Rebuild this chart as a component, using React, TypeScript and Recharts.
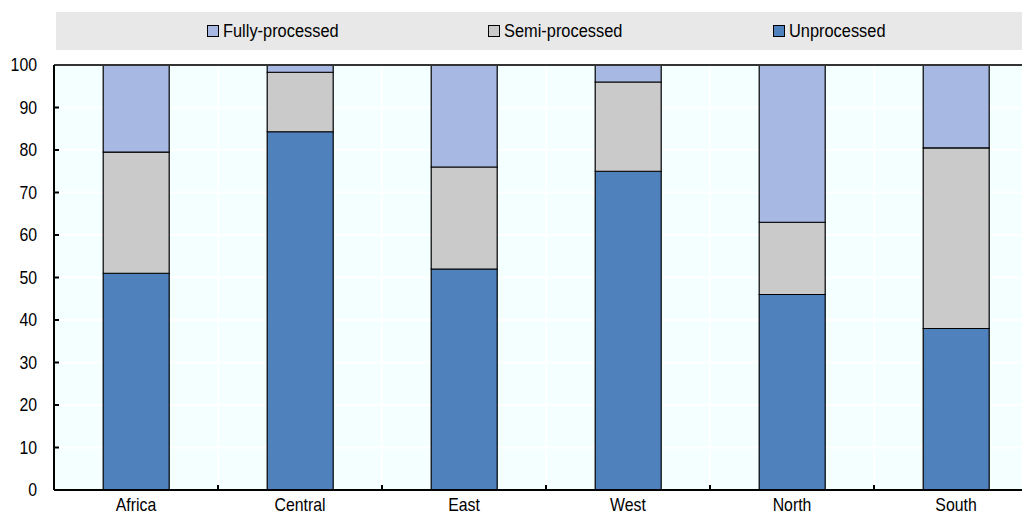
import React from 'react';
import { BarChart, Bar, XAxis, YAxis, CartesianGrid, Legend, ReferenceLine } from 'recharts';

const categories = ['Africa', 'Central', 'East', 'West', 'North', 'South'];
const unprocessed = [51, 84.3, 52, 75, 46, 38];
const semiProcessed = [28.5, 14, 24, 21, 17, 42.5];
const fullyProcessed = [20.5, 1.7, 24, 4, 37, 19.5];
const yTicks = [0, 10, 20, 30, 40, 50, 60, 70, 80, 90, 100];

const series = [
  { key: 'unprocessed', name: 'Unprocessed', color: '#4F81BD' },
  { key: 'semi', name: 'Semi-processed', color: '#CACACA' },
  { key: 'fully', name: 'Fully-processed', color: '#A7B9E3' },
];
const legendOrder = ['fully', 'semi', 'unprocessed'];
const legendX = [151, 432, 717];

const data = categories.map((c, i) => ({
  name: c,
  unprocessed: unprocessed[i],
  semi: semiProcessed[i],
  fully: fullyProcessed[i],
}));

const FONT = '"Liberation Sans", Arial, sans-serif';
const Y_TICK_MARGIN = 17;
const SQUEEZE = 0.88;
const LEGEND_SQUEEZE = 0.91;

const YTick = (props: any) => {
  const { x, y, payload } = props;
  const ax = x + Y_TICK_MARGIN;
  return (
    <g>
      {payload.value !== 0 && payload.value !== 100 ? (
        <line x1={ax} x2={ax + 5} y1={y} y2={y} stroke="#000" strokeWidth={2} />
      ) : null}
      <text
        transform={`translate(${x},${y}) scale(${SQUEEZE},1)`}
        x={0}
        y={0}
        dy="0.36em"
        textAnchor="end"
        fontFamily={FONT}
        fontSize={18}
        fill="#000"
      >
        {payload.value}
      </text>
    </g>
  );
};

const XTick = (props: any) => {
  const { x, y, payload, index, width, visibleTicksCount } = props;
  const band = (width || 984) / (visibleTicksCount || categories.length);
  const bx = x - band / 2;
  return (
    <g>
      {index > 0 ? <line x1={bx} x2={bx} y1={y} y2={y - 5} stroke="#000" strokeWidth={2} /> : null}
      <text
        transform={`translate(${x},${y + 21}) scale(${SQUEEZE},1)`}
        x={0}
        y={0}
        textAnchor="middle"
        fontFamily={FONT}
        fontSize={18}
        fill="#000"
      >
        {payload.value}
      </text>
    </g>
  );
};

const LegendContent = () => (
  <div style={{ position: 'relative', width: 990, height: 38, background: '#E8E8E8' }}>
    {legendOrder.map((k, i) => {
      const s = series.find((q) => q.key === k)!;
      return (
        <div
          key={k}
          style={{
            position: 'absolute',
            left: legendX[i],
            top: 0,
            height: 38,
            display: 'flex',
            alignItems: 'center',
            fontFamily: FONT,
            fontSize: 18,
            color: '#000',
            whiteSpace: 'nowrap',
          }}
        >
          <span
            style={{
              display: 'inline-block',
              width: 10,
              height: 10,
              background: s.color,
              border: '1px solid #000',
              marginRight: 4,
            }}
          />
          <span style={{ display: 'inline-block', transform: `scaleX(${LEGEND_SQUEEZE})`, transformOrigin: 'left center' }}>
            {s.name}
          </span>
        </div>
      );
    })}
  </div>
);

export default function App() {
  return (
    <div style={{ position: 'fixed', left: 0, top: 0, width: 1022, height: 513, overflow: 'hidden', background: '#fff' }}>
      <BarChart
        width={1040}
        height={513}
        data={data}
        margin={{ top: 27, right: 2, left: 0, bottom: 0 }}
        barCategoryGap="30%"
      >
        <CartesianGrid
          fill="#F4FFFF"
          stroke="#FFFFFF"
          strokeWidth={2}
          verticalCoordinatesGenerator={({ offset }: any) =>
            categories.map((_, i) => offset.left + (i * offset.width) / categories.length)
          }
        />
        <Legend
          verticalAlign="top"
          wrapperStyle={{ top: 12, left: 56, width: 990, height: 38 }}
          content={<LegendContent />}
        />
        <XAxis
          dataKey="name"
          height={23}
          tickSize={0}
          tickMargin={0}
          tickLine={false}
          axisLine={{ stroke: '#000', strokeWidth: 2 }}
          tick={<XTick />}
          interval={0}
        />
        <YAxis
          width={54}
          domain={[0, 100]}
          ticks={yTicks}
          tickSize={0}
          tickMargin={Y_TICK_MARGIN}
          tickLine={false}
          axisLine={{ stroke: '#000', strokeWidth: 2 }}
          tick={<YTick />}
          interval={0}
          allowDataOverflow
        />
        <ReferenceLine y={100} stroke="#333" strokeWidth={2} />
        {series.map((s) => (
          <Bar
            key={s.key}
            dataKey={s.key}
            name={s.name}
            stackId="a"
            fill={s.color}
            stroke="#000"
            strokeWidth={1.2}
            isAnimationActive={false}
          />
        ))}
      </BarChart>
    </div>
  );
}
